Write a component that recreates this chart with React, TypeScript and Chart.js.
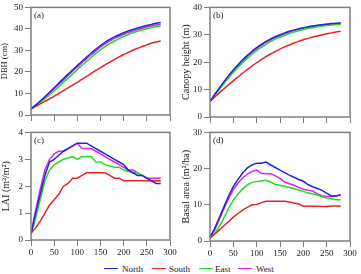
import React, { useEffect, useRef } from 'react';
import { Chart, registerables } from 'chart.js';

Chart.register(...registerables);

const years = [0, 10, 20, 30, 40, 50, 60, 70, 80, 90, 100, 110, 120, 130, 140, 150, 160, 170, 180, 190, 200, 210, 220, 230, 240, 250, 260, 270, 280];
const seriesNames = ['North', 'South', 'East', 'West'];
const seriesColors = ['#2424dc', '#e42424', '#24dc24', '#e024e0'];
const xTicks = [0, 50, 100, 150, 200, 250, 300];

// (a) DBH (cm)
const dbhNorth = [2.8, 4.6, 6.5, 8.5, 10.6, 12.7, 14.8, 16.9, 19.0, 21.0, 23.0, 25.0, 26.9, 28.8, 30.6, 32.3, 33.8, 35.1, 36.3, 37.3, 38.2, 39.0, 39.7, 40.4, 41.0, 41.6, 42.1, 42.6, 43.0];
const dbhSouth = [2.8, 4.0, 5.2, 6.3, 7.5, 8.7, 10.0, 11.3, 12.6, 13.9, 15.2, 16.6, 17.9, 19.3, 20.7, 22.0, 23.3, 24.6, 25.8, 27.0, 28.1, 29.1, 30.1, 31.0, 31.8, 32.6, 33.3, 33.9, 34.4];
const dbhEast = [2.8, 4.2, 5.8, 7.5, 9.3, 11.2, 13.1, 15.1, 17.1, 19.1, 21.1, 23.0, 24.9, 26.8, 28.6, 30.3, 31.8, 33.2, 34.4, 35.5, 36.5, 37.4, 38.2, 38.9, 39.5, 40.1, 40.6, 41.0, 41.4];
const dbhWest = [2.8, 4.5, 6.3, 8.2, 10.2, 12.2, 14.3, 16.3, 18.4, 20.4, 22.3, 24.3, 26.2, 28.0, 29.8, 31.5, 33.0, 34.4, 35.6, 36.6, 37.5, 38.3, 39.0, 39.7, 40.3, 40.9, 41.4, 41.8, 42.2];

// (b) Canopy height (m)
const htNorth = [5.7, 8.2, 10.6, 12.9, 15.1, 17.2, 19.1, 20.9, 22.5, 24.0, 25.3, 26.5, 27.6, 28.5, 29.3, 30.0, 30.7, 31.3, 31.8, 32.2, 32.6, 32.9, 33.2, 33.5, 33.7, 33.9, 34.1, 34.2, 34.4];
const htSouth = [5.7, 7.2, 8.8, 10.3, 11.8, 13.2, 14.6, 16.0, 17.3, 18.6, 19.8, 20.9, 22.0, 23.0, 23.9, 24.8, 25.6, 26.3, 27.0, 27.6, 28.2, 28.7, 29.2, 29.6, 30.0, 30.4, 30.7, 31.0, 31.3];
const htEast = [5.7, 7.8, 10.0, 12.2, 14.3, 16.2, 18.1, 19.8, 21.4, 22.9, 24.2, 25.4, 26.5, 27.5, 28.4, 29.1, 29.8, 30.5, 31.0, 31.5, 31.9, 32.3, 32.6, 32.9, 33.2, 33.4, 33.6, 33.7, 33.8];
const htWest = [5.7, 8.0, 10.4, 12.6, 14.8, 16.8, 18.7, 20.5, 22.1, 23.6, 24.9, 26.1, 27.2, 28.1, 29.0, 29.7, 30.4, 31.0, 31.5, 32.0, 32.4, 32.7, 33.0, 33.3, 33.5, 33.7, 33.9, 34.0, 34.1];

// (c) LAI (m2/m2)
const laiNorth = [0.25, 1.0, 1.7, 2.4, 2.9, 3.0, 3.15, 3.3, 3.4, 3.5, 3.6, 3.6, 3.6, 3.5, 3.4, 3.3, 3.2, 3.1, 3.0, 2.9, 2.8, 2.6, 2.5, 2.4, 2.4, 2.3, 2.2, 2.1, 2.1];
const laiSouth = [0.25, 0.45, 0.7, 1.0, 1.3, 1.5, 1.7, 2.0, 2.1, 2.3, 2.3, 2.4, 2.5, 2.5, 2.5, 2.5, 2.5, 2.4, 2.3, 2.3, 2.2, 2.2, 2.2, 2.2, 2.2, 2.2, 2.2, 2.2, 2.2];
const laiEast = [0.2, 0.8, 1.5, 2.2, 2.6, 2.8, 2.9, 3.0, 3.05, 3.1, 3.0, 3.1, 3.1, 3.1, 2.9, 2.9, 2.8, 2.75, 2.7, 2.7, 2.6, 2.55, 2.5, 2.5, 2.4, 2.3, 2.2, 2.2, 2.2];
const laiWest = [0.25, 1.1, 1.9, 2.6, 3.0, 3.2, 3.3, 3.3, 3.4, 3.5, 3.6, 3.4, 3.4, 3.4, 3.3, 3.2, 3.1, 3.0, 2.9, 2.8, 2.7, 2.6, 2.6, 2.5, 2.4, 2.3, 2.3, 2.3, 2.3];

// (d) Basal area (m2/ha)
const baNorth = [1.0, 3.5, 6.5, 9.5, 12.5, 15.0, 17.0, 18.8, 20.2, 21.0, 21.5, 21.5, 21.8, 21.0, 20.3, 19.6, 18.9, 18.2, 17.6, 17.0, 16.5, 15.6, 15.0, 14.5, 14.0, 13.2, 12.4, 12.4, 12.7];
const baSouth = [0.9, 1.9, 3.0, 4.2, 5.4, 6.6, 7.6, 8.5, 9.3, 10.0, 10.1, 10.6, 11.0, 11.0, 11.0, 11.0, 11.0, 10.8, 10.5, 10.2, 9.6, 9.6, 9.6, 9.6, 9.5, 9.5, 9.7, 9.7, 9.6];
const baEast = [0.8, 2.0, 4.0, 6.5, 9.0, 11.3, 13.0, 14.4, 15.5, 16.2, 16.4, 16.6, 16.8, 16.3, 15.6, 15.4, 15.1, 14.8, 14.5, 14.1, 13.7, 13.3, 13.0, 12.7, 12.2, 11.9, 11.7, 11.4, 11.4];
const baWest = [1.0, 3.0, 6.0, 9.0, 11.8, 14.2, 16.0, 17.4, 18.5, 19.2, 19.6, 18.7, 18.6, 18.6, 18.0, 17.3, 16.3, 15.8, 15.4, 14.8, 14.3, 14.0, 13.8, 13.0, 12.5, 12.3, 12.3, 12.5, 12.8];

const FONT = "'Liberation Serif', 'Times New Roman', Times, serif";
const AXIS_GRAY = '#808080';
const TEXT = '#222222';

type PanelProps = {
  left: number; top: number; width: number; height: number;
  padTop: number; padRight: number; yWidth: number; xHeight: number;
  series: number[][]; yMax: number; yStep: number;
  yTitle: string; yTitleSize: number; tag: string; showXLabels: boolean; smooth: boolean;
};

const boxPlugin = {
  id: 'boxAndTag',
  afterDraw(chart: any, _args: any, opts: any) {
    const { ctx, chartArea } = chart;
    const { left, top, right, bottom } = chartArea;
    ctx.save();
    ctx.strokeStyle = AXIS_GRAY;
    ctx.lineWidth = 1.5;
    ctx.strokeRect(left, top, right - left, bottom - top);
    ctx.fillStyle = TEXT;
    ctx.font = `9px ${FONT}`;
    ctx.textBaseline = 'middle';
    ctx.textAlign = 'left';
    ctx.fillText(opts.text || '', left + 3, top + 8);
    ctx.restore();
  },
};

function Panel(p: PanelProps) {
  const ref = useRef<HTMLCanvasElement | null>(null);
  useEffect(() => {
    if (!ref.current) return;
    const datasets = p.series.map((vals, i) => ({
      label: seriesNames[i],
      data: years.map((x, j) => ({ x, y: vals[j] })),
      borderColor: seriesColors[i],
      backgroundColor: seriesColors[i],
      borderWidth: 1.5,
      pointRadius: 0,
      fill: false,
      tension: 0,
      cubicInterpolationMode: p.smooth ? 'monotone' : 'default',
    }));
    const tickFont = { family: FONT, size: 9 };
    const chart = new Chart(ref.current, {
      type: 'line',
      data: { datasets } as any,
      plugins: [boxPlugin],
      options: {
        responsive: false,
        animation: false,
        layout: { padding: { top: p.padTop, right: p.padRight, left: 0, bottom: 0 } },
        plugins: {
          legend: { display: false },
          tooltip: { enabled: false },
          boxAndTag: { text: p.tag },
        } as any,
        scales: {
          x: {
            type: 'linear',
            min: 0,
            max: 300,
            afterTickToLabelConversion: (s: any) => {
              s.ticks = xTicks.map((v) => ({ value: v, label: String(v) }));
            },
            afterFit: (s: any) => { s.height = p.xHeight; },
            ticks: { stepSize: 50, display: p.showXLabels, padding: 1, font: tickFont, color: TEXT, maxRotation: 0, autoSkip: false },
            grid: { drawOnChartArea: false, drawTicks: true, tickLength: 6, color: AXIS_GRAY, lineWidth: 1 },
            border: { display: false },
          },
          y: {
            min: 0,
            max: p.yMax,
            afterFit: (s: any) => { s.width = p.yWidth; },
            ticks: { stepSize: p.yStep, padding: 2, font: tickFont, color: TEXT },
            grid: { drawOnChartArea: false, drawTicks: true, tickLength: 6, color: AXIS_GRAY, lineWidth: 1 },
            border: { display: false },
            title: { display: true, text: p.yTitle, font: { family: FONT, size: p.yTitleSize }, color: TEXT, padding: 0 },
          },
        } as any,
      },
    } as any);
    return () => chart.destroy();
  }, []);
  return (
    <canvas
      ref={ref}
      width={p.width}
      height={p.height}
      style={{ position: 'absolute', left: p.left, top: p.top, width: p.width, height: p.height }}
    />
  );
}

const legendLineX = [104, 152, 199, 238];
const legendTextX = [122, 169, 215, 256];

export default function App() {
  return (
    <div style={{ position: 'absolute', left: 0, top: 0, width: 361, height: 274, background: '#ffffff', overflow: 'hidden' }}>
      <Panel left={0} top={0} width={180} height={125} padTop={5} padRight={10} yWidth={31} xHeight={10}
        series={[dbhNorth, dbhSouth, dbhEast, dbhWest]} yMax={50} yStep={10}
        yTitle="DBH (cm)" yTitleSize={8.5} tag="(a)" showXLabels={false} smooth={true} />
      <Panel left={180} top={0} width={181} height={125} padTop={5} padRight={11} yWidth={30} xHeight={8}
        series={[htNorth, htSouth, htEast, htWest]} yMax={40} yStep={10}
        yTitle="Canopy height (m)" yTitleSize={10} tag="(b)" showXLabels={false} smooth={true} />
      <Panel left={0} top={125} width={180} height={135} padTop={5} padRight={10} yWidth={31} xHeight={20}
        series={[laiNorth, laiSouth, laiEast, laiWest]} yMax={4} yStep={1}
        yTitle="LAI (m²/m²)" yTitleSize={10} tag="(c)" showXLabels={true} smooth={false} />
      <Panel left={180} top={125} width={181} height={135} padTop={6} padRight={11} yWidth={30} xHeight={19}
        series={[baNorth, baSouth, baEast, baWest]} yMax={30} yStep={10}
        yTitle="Basal area (m²/ha)" yTitleSize={10} tag="(d)" showXLabels={true} smooth={false} />
      {seriesNames.map((name, i) => (
        <React.Fragment key={name}>
          <div style={{ position: 'absolute', left: legendLineX[i], top: 268, width: 14, height: 0, borderTop: `1.5px solid ${seriesColors[i]}` }} />
          <div style={{ position: 'absolute', left: legendTextX[i], top: 263, fontFamily: FONT, fontSize: 9, lineHeight: '12px', color: TEXT, whiteSpace: 'nowrap' }}>{name}</div>
        </React.Fragment>
      ))}
    </div>
  );
}
